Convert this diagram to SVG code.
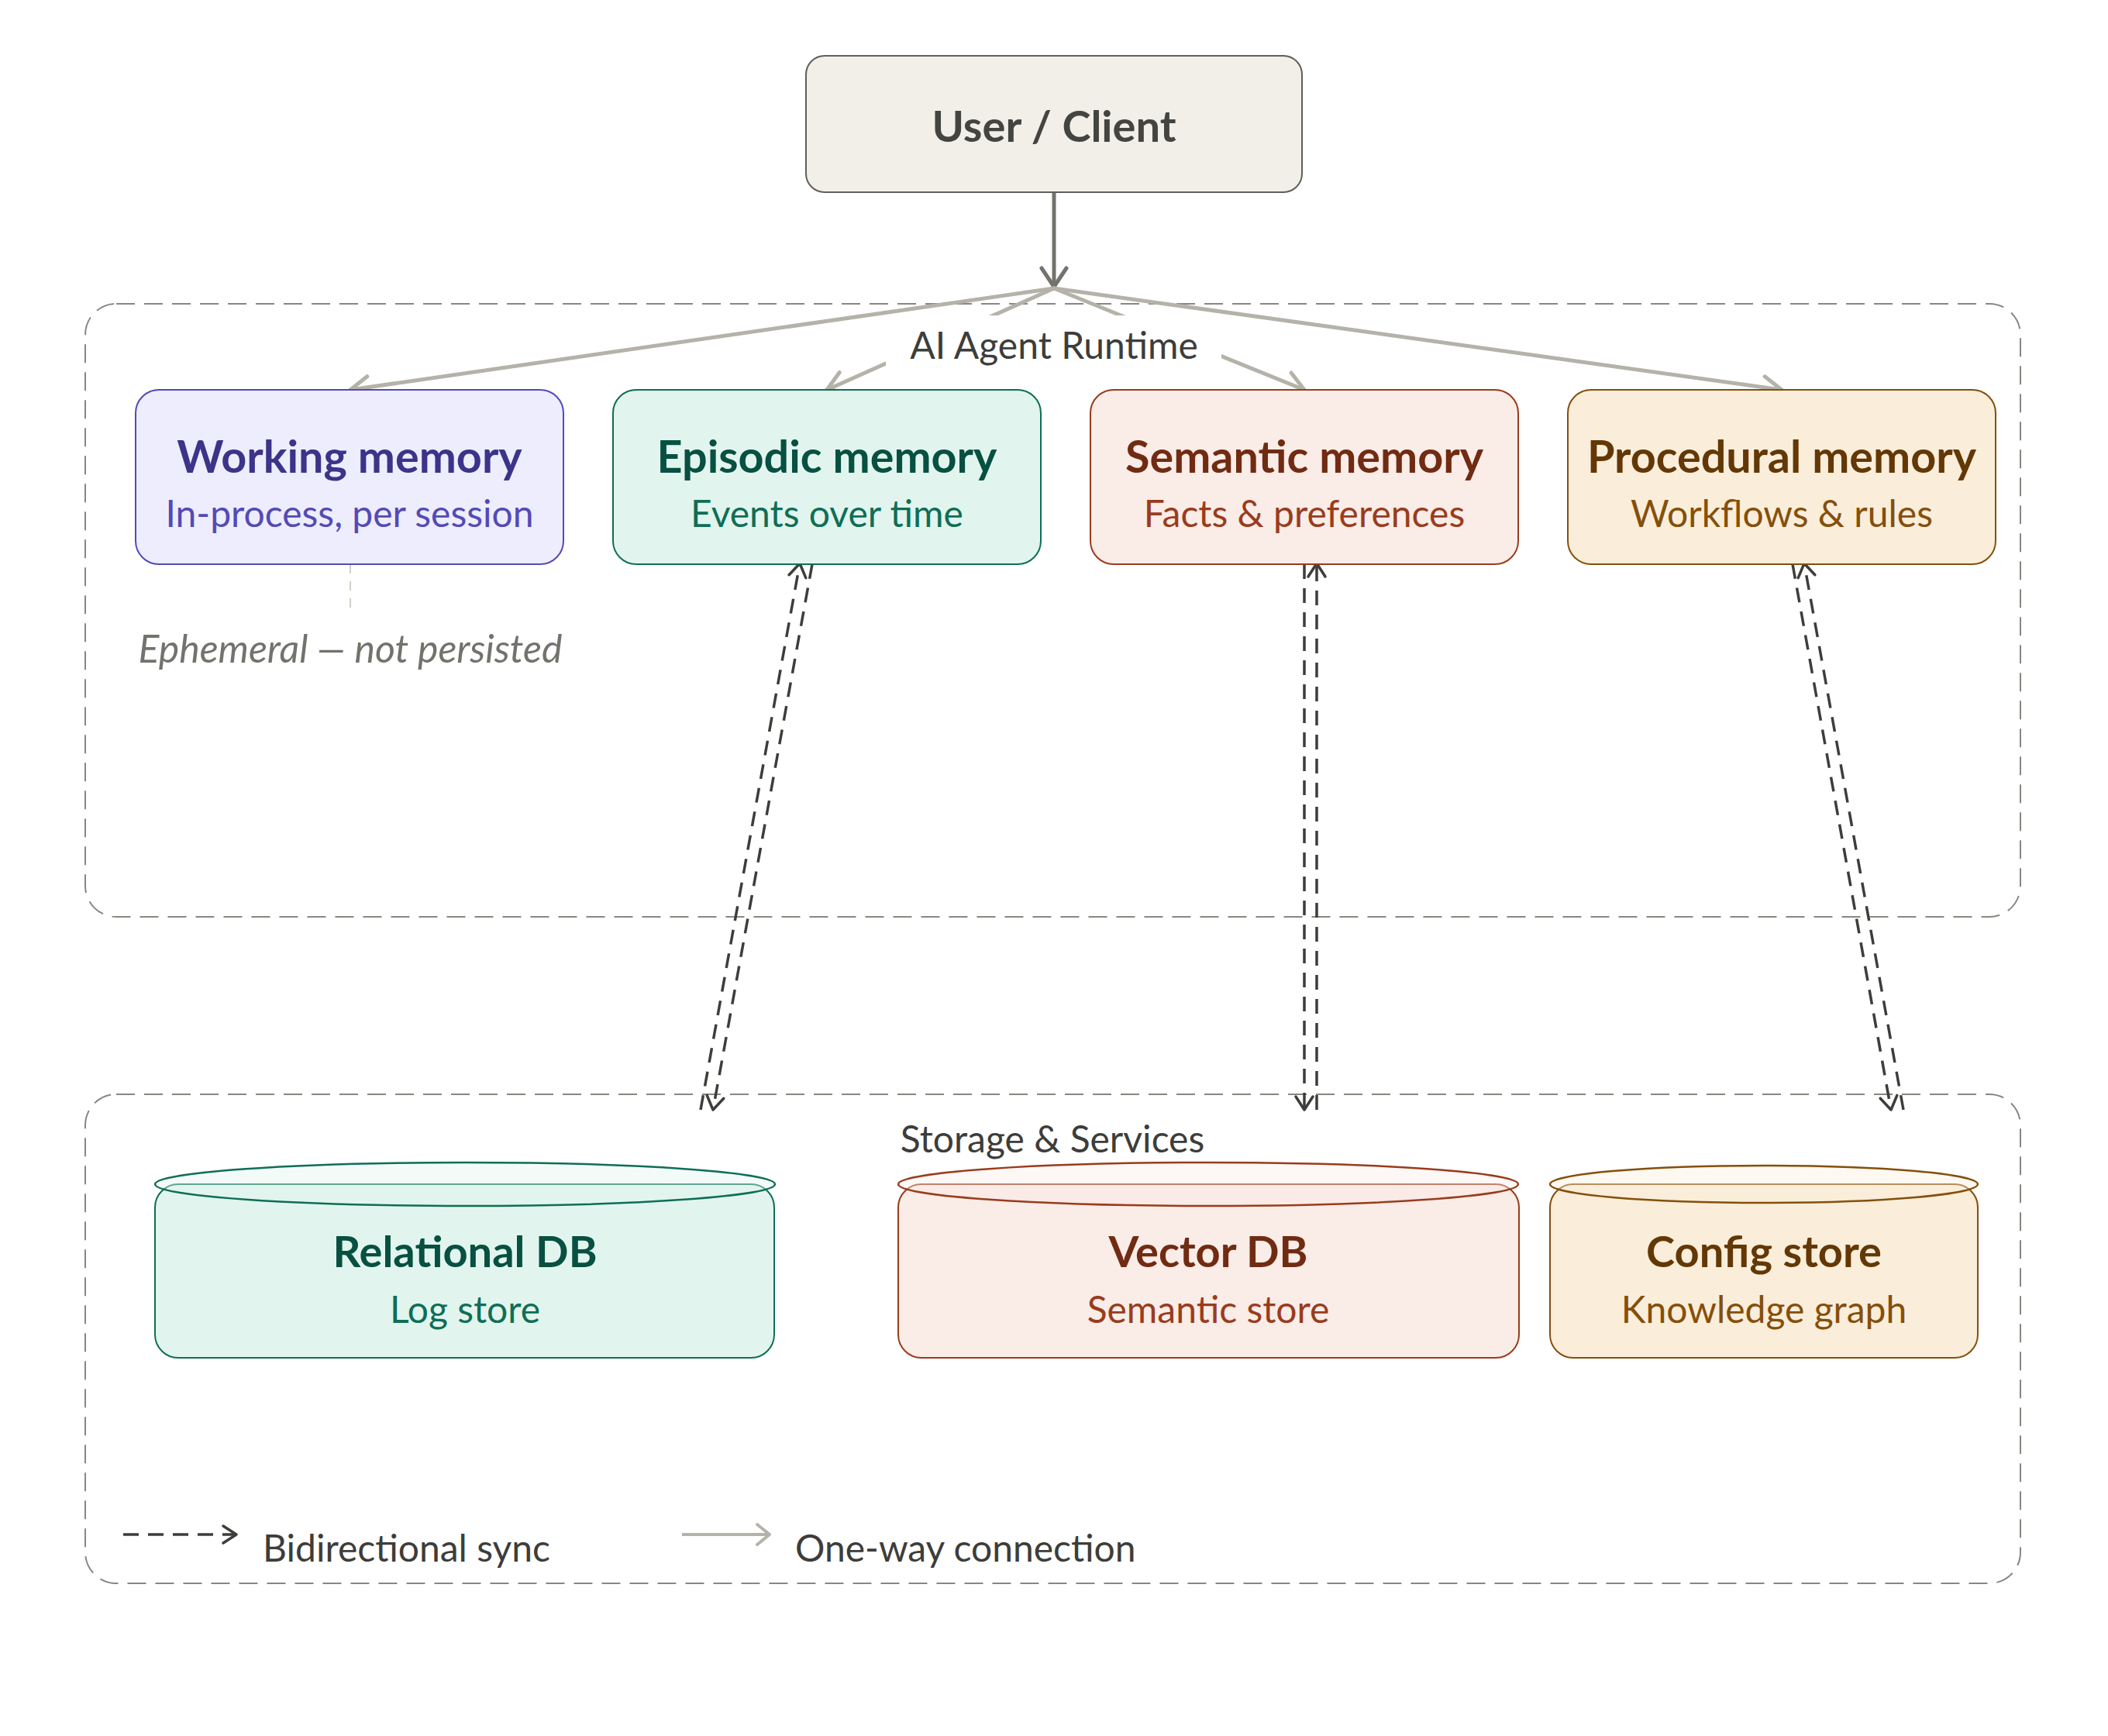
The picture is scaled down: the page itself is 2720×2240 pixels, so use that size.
<svg xmlns="http://www.w3.org/2000/svg" width="2720" height="2240" viewBox="0 0 2720 2240">
<style>
text{font-family:Lato,"Open Sans","Liberation Sans",sans-serif;text-anchor:middle}
.t{font-weight:700;font-size:57.5px}
.ct{font-weight:700;font-size:56px}
.s{font-size:48px}
.lbl{font-size:48px;fill:#3d3d3a}
.cont{fill:none;stroke:#888780;stroke-width:2;stroke-dasharray:24 12}
.fan{fill:none;stroke:#b4b2a9;stroke-width:5;stroke-linecap:round;marker-end:url(#ag)}
.sync{fill:none;stroke:#3d3d3a;stroke-width:3.5;stroke-dasharray:19 12;marker-end:url(#ad)}
</style>
<defs>
<marker id="ag" markerUnits="userSpaceOnUse" viewBox="-30 -20 34 40" refX="0" refY="0" markerWidth="34" markerHeight="40" orient="auto" overflow="visible">
<path d="M-24,-14 L0,0 L-24,14" fill="none" stroke="#b4b2a9" stroke-width="5" stroke-linecap="round" stroke-linejoin="round"/>
</marker>
<marker id="am" markerUnits="userSpaceOnUse" viewBox="-30 -20 34 40" refX="0" refY="0" markerWidth="34" markerHeight="40" orient="auto" overflow="visible">
<path d="M-24,-16 L0,0 L-24,16" fill="none" stroke="#73726c" stroke-width="5" stroke-linecap="round" stroke-linejoin="round"/>
</marker>
<marker id="ad" markerUnits="userSpaceOnUse" viewBox="-30 -20 34 40" refX="0" refY="0" markerWidth="34" markerHeight="40" orient="auto" overflow="visible">
<path d="M-17,-11 L0,0 L-17,11" fill="none" stroke="#3d3d3a" stroke-width="3.5" stroke-linecap="round" stroke-linejoin="round"/>
</marker>
<marker id="al" markerUnits="userSpaceOnUse" viewBox="-30 -20 34 40" refX="0" refY="0" markerWidth="34" markerHeight="40" orient="auto" overflow="visible">
<path d="M-16,-13 L0,0 L-16,13" fill="none" stroke="#b4b2a9" stroke-width="4" stroke-linecap="round" stroke-linejoin="round"/>
</marker>
</defs>
<rect width="2720" height="2240" fill="#ffffff"/>

<g id="runtime-container">
<rect class="cont" x="110" y="392" width="2497" height="791" rx="40"/>
</g>
<g id="storage-container">
<rect class="cont" x="110" y="1412" width="2497" height="631" rx="40"/>
</g>

<g id="connectors">
<line x1="1360" y1="248" x2="1360" y2="370" stroke="#73726c" stroke-width="5" marker-end="url(#am)"/>
<line class="fan" x1="1360" y1="372" x2="452" y2="503"/>
<line class="fan" x1="1360" y1="372" x2="1067" y2="503"/>
<line class="fan" x1="1360" y1="372" x2="1683" y2="503"/>
<line class="fan" x1="1360" y1="372" x2="2299" y2="503"/>
<line x1="452" y1="728" x2="452" y2="787" stroke="#d3d1c7" stroke-width="2" stroke-dasharray="12 10"/>
<line class="sync" x1="904" y1="1432" x2="1032" y2="727"/>
<line class="sync" x1="1048" y1="728" x2="920" y2="1432"/>
<line class="sync" x1="1699" y1="1432" x2="1699" y2="727"/>
<line class="sync" x1="1683" y1="728" x2="1683" y2="1432"/>
<line class="sync" x1="2456" y1="1432" x2="2328" y2="727"/>
<line class="sync" x1="2313" y1="728" x2="2440" y2="1432"/>
</g>

<g id="runtime-label">
<rect x="1143" y="407" width="433" height="80" fill="#ffffff"/>
<text class="lbl" x="1360" y="463">AI Agent Runtime</text>
</g>
<g id="storage-label">
<text class="lbl" x="1358" y="1487">Storage &amp; Services</text>
</g>

<g id="user-client">
<rect x="1040" y="72" width="640" height="176" rx="24" fill="#f1efe8" stroke="#5f5e5a" stroke-width="2"/>
<text x="1360" y="183" font-size="56" font-weight="700" fill="#444441">User / Client</text>
</g>

<g id="working-memory">
<rect x="175" y="503" width="552" height="225" rx="30" fill="#eeedfe" stroke="#534ab7" stroke-width="2"/>
<text class="t" x="451" y="610" fill="#3c3489">Working memory</text>
<text class="s" x="451" y="680" fill="#534ab7">In-process, per session</text>
</g>
<g id="episodic-memory">
<rect x="791" y="503" width="552" height="225" rx="30" fill="#e1f5ee" stroke="#0f6e56" stroke-width="2"/>
<text class="t" x="1067" y="610" fill="#085041">Episodic memory</text>
<text class="s" x="1067" y="680" fill="#0f6e56">Events over time</text>
</g>
<g id="semantic-memory">
<rect x="1407" y="503" width="552" height="225" rx="30" fill="#faece7" stroke="#993c1d" stroke-width="2"/>
<text class="t" x="1683" y="610" fill="#712b13">Semantic memory</text>
<text class="s" x="1683" y="680" fill="#993c1d">Facts &amp; preferences</text>
</g>
<g id="procedural-memory">
<rect x="2023" y="503" width="552" height="225" rx="30" fill="#faeeda" stroke="#854f0b" stroke-width="2"/>
<text class="t" x="2299" y="610" fill="#633806">Procedural memory</text>
<text class="s" x="2299" y="680" fill="#854f0b">Workflows &amp; rules</text>
</g>

<g id="ephemeral-note">
<text x="452" y="855" font-size="50" font-style="italic" fill="#73726c">Ephemeral — not persisted</text>
</g>

<g id="relational-db">
<rect x="200" y="1528" width="799" height="224" rx="30" fill="#e1f5ee" stroke="#0f6e56" stroke-width="2"/>
<ellipse cx="600" cy="1528" rx="400" ry="28" fill="#e1f5ee" fill-opacity="0.4" stroke="#0f6e56" stroke-width="2.5"/>
<text class="ct" x="600" y="1635" fill="#085041">Relational DB</text>
<text class="s" x="600" y="1707" fill="#0f6e56">Log store</text>
</g>
<g id="vector-db">
<rect x="1159" y="1528" width="801" height="224" rx="30" fill="#faece7" stroke="#993c1d" stroke-width="2"/>
<ellipse cx="1559" cy="1528" rx="400" ry="28" fill="#faece7" fill-opacity="0.4" stroke="#993c1d" stroke-width="2.5"/>
<text class="ct" x="1559" y="1635" fill="#712b13">Vector DB</text>
<text class="s" x="1559" y="1707" fill="#993c1d">Semantic store</text>
</g>
<g id="config-store">
<rect x="2000" y="1528" width="552" height="224" rx="30" fill="#faeeda" stroke="#854f0b" stroke-width="2"/>
<ellipse cx="2276" cy="1528" rx="276" ry="24" fill="#faeeda" fill-opacity="0.4" stroke="#854f0b" stroke-width="2.5"/>
<text class="ct" x="2276" y="1635" fill="#633806">Config store</text>
<text class="s" x="2276" y="1707" fill="#854f0b">Knowledge graph</text>
</g>

<g id="legend">
<line x1="159" y1="1980" x2="305" y2="1980" stroke="#3d3d3a" stroke-width="3.5" stroke-dasharray="20 12" marker-end="url(#ad)"/>
<text class="lbl" x="339" y="2015" style="text-anchor:start">Bidirectional sync</text>
<line x1="880" y1="1980" x2="993" y2="1980" stroke="#b4b2a9" stroke-width="4" marker-end="url(#al)"/>
<text class="lbl" x="1026" y="2015" style="text-anchor:start">One-way connection</text>
</g>
</svg>
